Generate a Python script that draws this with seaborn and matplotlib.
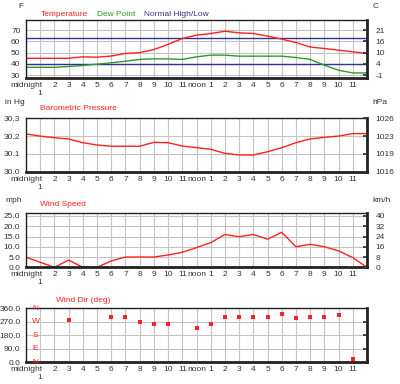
import matplotlib
matplotlib.use('Agg')
import matplotlib.pyplot as plt
import matplotlib.transforms as mtransforms
import seaborn as sns
import pandas as pd

# hourly readings (hour 0 = midnight)
hours = list(range(25))
temp_f = [45, 45, 45, 45, 46.3, 46, 47, 49.3, 50, 52.8, 57.3, 62.6, 65.5,
          67, 69, 67.6, 67, 64.7, 62, 59, 55, 53.7, 52.2, 50.7, 49.3]
dew_f = [37, 37, 37, 37.7, 38.6, 39.8, 41, 42.4, 44, 44.5, 44.5, 44, 46.3,
         47.8, 47.8, 46.9, 46.9, 46.9, 46.9, 45.7, 44, 38.9, 34.4, 32, 32]
normal_high = 63
normal_low = 40
pressure_inhg = [30.212, 30.20, 30.191, 30.184, 30.163, 30.15, 30.143, 30.143,
                 30.143, 30.165, 30.163, 30.144, 30.135, 30.126, 30.103, 30.094,
                 30.094, 30.112, 30.135, 30.163, 30.184, 30.193, 30.20, 30.214, 30.214]
wind_hours = [0, 2, 3, 4, 5, 6, 7, 8, 9, 10, 11, 12, 13, 14, 15, 16, 17, 18,
              19, 20, 21, 22, 23, 24]
wind_mph = [4.9, 0, 3.5, 0, 0, 3.1, 5, 5, 5, 6, 7.3, 9.6, 12, 16, 14.9, 16,
            13.7, 17, 10, 11.2, 10, 8, 4.7, 0]
dir_hours = [3, 6, 7, 8, 9, 10, 12, 13, 14, 15, 16, 17, 18, 19, 20, 21, 22, 23]
dir_deg = [282, 302, 302, 267, 255, 255, 227, 255, 304, 304, 304, 304, 322,
           293, 304, 304, 315, 22]

tick_hours = list(range(0, 24))
# the "1" under midnight is drawn separately on a second row
tick_labels = ['midnight', ''] + [str(h) for h in range(2, 12)] + ['noon'] + \
              [str(h) for h in range(1, 12)]
compass = ['N', 'E', 'S', 'W', 'N']

sns.set_theme(style='white')
plt.rcParams['font.family'] = ['Liberation Sans', 'DejaVu Sans']

RED = '#ff2020'
GREEN = '#2e9a2e'
NAVY = '#33338f'
GRID = '#c4c4c4'
FS = 6
W, H = 400, 384

fig = plt.figure(figsize=(4, 3.84), dpi=100)


def panel(top, bottom):
    ax = fig.add_axes([26 / W, 1 - bottom / H, 341 / W, (bottom - top) / H])
    ax.set_xlim(0.1, 24)
    ax.set_xticks(tick_hours)
    ax.set_xticklabels(tick_labels, fontsize=FS, color='#333333')
    ax.tick_params(axis='x', length=0, pad=3)
    ax.tick_params(axis='y', length=0, pad=4, labelsize=FS, labelcolor='#333333')
    ax.grid(True, color=GRID, linewidth=0.8)
    for s in ax.spines.values():
        s.set_color('#222222')
        s.set_linewidth(1.0)
    ax.spines['right'].set_linewidth(2)
    ax.spines['bottom'].set_linewidth(2)
    # second-row "1" under midnight
    off = mtransforms.offset_copy(ax.get_xaxis_transform(), fig=fig, y=-8.5, units='points')
    ax.text(1, 0, '1', transform=off, fontsize=FS, color='#333333',
            ha='center', va='top')
    return ax


def right_axis(ax, ticks, labels):
    ax2 = ax.twinx()
    ax2.set_ylim(ax.get_ylim())
    ax2.set_yticks(ticks)
    ax2.set_yticklabels(labels)
    ax2.tick_params(axis='y', direction='in', length=3, pad=6, labelsize=FS,
                    labelcolor='#333333', color='#333333')
    ax2.grid(False)
    for s in ax2.spines.values():
        s.set_visible(False)
    return ax2


def ftxt(x, y, s, **kw):
    fig.text(x / W, 1 - y / H, s, va='center', ha='left', fontsize=FS, **kw)


# temperature
ax1 = panel(20, 78)
df_t = pd.DataFrame({'hour': hours, 'temp': temp_f, 'dew': dew_f})
ax1.axhline(normal_high, color=NAVY, lw=1)
ax1.axhline(normal_low, color=NAVY, lw=1)
sns.lineplot(data=df_t, x='hour', y='temp', color=RED, lw=1, ax=ax1)
sns.lineplot(data=df_t, x='hour', y='dew', color=GREEN, lw=1, ax=ax1)
ax1.set_ylim(27.5, 79)
t_ticks = [30, 40, 50, 60, 70]
ax1.set_yticks(t_ticks)
ax1.set_xlabel('')
ax1.set_ylabel('')
right_axis(ax1, t_ticks, [str(round((f - 32) * 5 / 9)) for f in t_ticks])
ftxt(18, 7, 'F', color='#333333')
ftxt(373, 7, 'C', color='#333333')
ftxt(41, 14, 'Temperature', color=RED)
ftxt(97, 14, 'Dew Point', color=GREEN)
ftxt(144, 14, 'Normal High/Low', color=NAVY)

# pressure
ax2 = panel(118.3, 171.7)
df_p = pd.DataFrame({'hour': hours, 'p': pressure_inhg})
sns.lineplot(data=df_p, x='hour', y='p', color=RED, lw=1, ax=ax2)
ax2.set_ylim(30.0, 30.3)
p_ticks = [30.0, 30.1, 30.2, 30.3]
ax2.set_yticks(p_ticks)
ax2.set_yticklabels([f'{p:.1f}' for p in p_ticks])
ax2.set_xlabel('')
ax2.set_ylabel('')
right_axis(ax2, p_ticks, [str(round(p * 33.8639)) for p in p_ticks])
ftxt(5, 103, 'in Hg', color='#333333')
ftxt(372, 103, 'hPa', color='#333333')
ftxt(40, 109, 'Barometric Pressure', color=RED)

# wind speed
ax3 = panel(213.3, 267.3)
df_w = pd.DataFrame({'hour': wind_hours, 'mph': wind_mph})
sns.lineplot(data=df_w, x='hour', y='mph', color=RED, lw=1, ax=ax3)
ax3.set_ylim(0, 26.3)
w_ticks = [0, 5, 10, 15, 20, 25]
ax3.set_yticks(w_ticks)
ax3.set_yticklabels([f'{w:.1f}' for w in w_ticks])
ax3.set_xlabel('')
ax3.set_ylabel('')
right_axis(ax3, w_ticks, [str(round(w * 1.609)) for w in w_ticks])
ftxt(5, 200, 'mph', color='#333333')
ftxt(372, 200, 'km/h', color='#333333')
ftxt(40, 205, 'Wind Speed', color=RED)

# wind direction
ax4 = panel(308.3, 362.3)
df_d = pd.DataFrame({'hour': dir_hours, 'deg': dir_deg})
sns.scatterplot(data=df_d, x='hour', y='deg', color=RED, marker='s', s=6,
                linewidth=0, ax=ax4)
ax4.set_ylim(0, 360)
d_ticks = [0, 90, 180, 270, 360]
ax4.set_yticks(d_ticks)
ax4.set_yticklabels([f'{d:.1f}' for d in d_ticks])
ax4.set_xlabel('')
ax4.set_ylabel('')
for d, c in zip(d_ticks, compass):
    ax4.text(0.45, d, c, color=RED, fontsize=FS, va='center', ha='left')
right_axis(ax4, [90, 180, 270], ['', '', ''])
ftxt(56, 301, 'Wind Dir (deg)', color=RED)

fig.savefig('out.png', dpi=100)
